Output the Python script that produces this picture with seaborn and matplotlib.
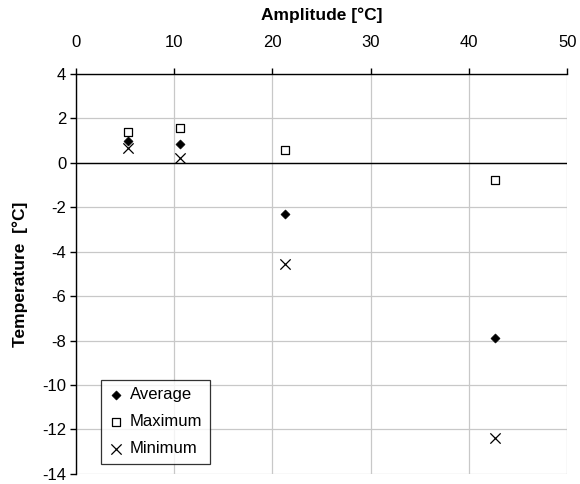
import matplotlib
matplotlib.use("Agg")
import matplotlib.pyplot as plt
import seaborn as sns
import pandas as pd

amplitude = [5.3, 10.6, 21.3, 42.6]
average = [1.0, 0.87, -2.3, -7.88]
maximum = [1.39, 1.56, 0.6, -0.78]
minimum = [0.68, 0.23, -4.57, -12.38]
x_ticks = [0, 10, 20, 30, 40, 50]
y_ticks = [4, 2, 0, -2, -4, -6, -8, -10, -12, -14]

sns.set_theme(style="white")
plt.rcParams['font.family'] = ['Liberation Sans', 'DejaVu Sans']
plt.rcParams['text.color'] = 'black'
plt.rcParams['axes.labelcolor'] = 'black'
plt.rcParams['xtick.color'] = 'black'
plt.rcParams['ytick.color'] = 'black'

df = pd.DataFrame({"Amplitude": amplitude, "Average": average,
                   "Maximum": maximum, "Minimum": minimum})

fig = plt.figure(figsize=(5.8, 4.84), dpi=100)
ax = fig.add_axes([0.131, 0.021, 0.847, 0.826])

ax.grid(True, color="#c8c8c8", linewidth=0.9, zorder=0)
ax.set_axisbelow(True)
ax.axhline(0, color="black", linewidth=1.0, zorder=1)

sns.scatterplot(data=df, x="Amplitude", y="Average", ax=ax, marker="D",
                color="black", s=22, edgecolor="black", label="Average", zorder=3)
sns.scatterplot(data=df, x="Amplitude", y="Maximum", ax=ax, marker="s",
                facecolor="white", edgecolor="black", linewidth=0.9, s=26,
                label="Maximum", zorder=3)
sns.scatterplot(data=df, x="Amplitude", y="Minimum", ax=ax, marker="x",
                color="black", linewidth=0.9, s=55, label="Minimum", zorder=3)

ax.set_xlim(0, 50)
ax.set_ylim(-14, 4)
ax.set_xticks(x_ticks)
ax.set_yticks(y_ticks)
ax.set_yticklabels([str(v) for v in y_ticks])
ax.xaxis.tick_top()
ax.xaxis.set_label_position("top")
ax.tick_params(axis="x", top=True, bottom=False, direction="out", length=4,
               width=1, color="black", labelcolor="black", labelsize=12, pad=13)
ax.tick_params(axis="y", left=True, direction="out", length=4, width=1,
               color="black", labelcolor="black", labelsize=12, pad=3)

for side in ["right", "bottom"]:
    ax.spines[side].set_visible(False)
for side in ["left", "top"]:
    ax.spines[side].set_visible(True)
    ax.spines[side].set_color("black")
    ax.spines[side].set_linewidth(1.0)

ax.set_xlabel("Amplitude [°C]", fontsize=12.5, fontweight="bold", labelpad=11,
              color="black")
ax.set_ylabel("Temperature  [°C]", fontsize=12.5, fontweight="bold", labelpad=10,
              color="black")

leg = ax.legend(loc="lower left", bbox_to_anchor=(0.05, 0.025), fontsize=12,
                frameon=True, fancybox=False, edgecolor="black",
                handletextpad=0.3, borderpad=0.45, labelspacing=0.72,
                handlelength=1.0, borderaxespad=0)
leg.get_frame().set_linewidth(0.9)
for t in leg.get_texts():
    t.set_color("black")

fig.savefig("out.png", dpi=100)
